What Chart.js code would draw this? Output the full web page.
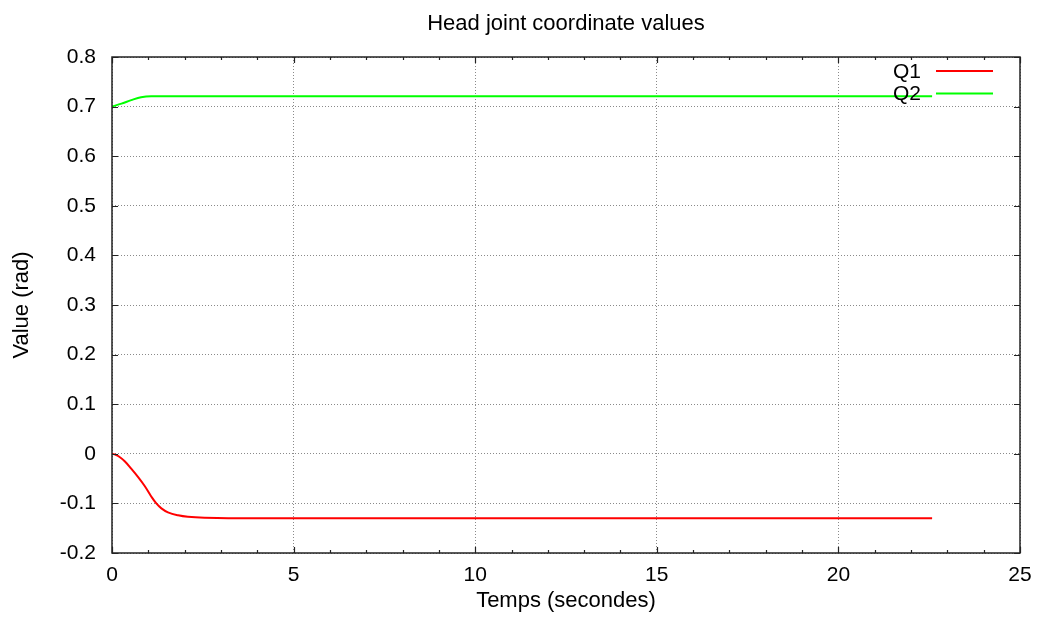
<!DOCTYPE html>
<html>
<head>
<meta charset="utf-8">
<script src="https://cdn.jsdelivr.net/npm/chart.js@4/dist/chart.umd.min.js"></script>
<style>
  html, body { margin: 0; padding: 0; background: #ffffff; }
  #wrap { width: 1038px; height: 622px; }
</style>
</head>
<body>
<div id="wrap"><canvas id="c" width="1038" height="622"></canvas></div>
<script>
// ---- data ----
const chartTitle = 'Head joint coordinate values';
const xAxisTitle = 'Temps (secondes)';
const yAxisTitle = 'Value (rad)';
const seriesNames = ['Q1', 'Q2'];
const seriesColors = ['#ff0000', '#00ff00'];

const q1Time  = [0, 0.1, 0.2, 0.35, 0.53, 0.72, 0.9, 1.08, 1.22, 1.36, 1.54, 1.82, 2.09, 2.55, 3.2, 22.58];
const q1Value = [0, -0.002, -0.006, -0.015, -0.03, -0.047, -0.065, -0.086, -0.1, -0.11, -0.118, -0.124, -0.127, -0.129, -0.13, -0.13];

const q2Time  = [0, 0.26, 0.53, 0.8, 1.08, 1.4, 22.58];
const q2Value = [0.7, 0.706, 0.713, 0.719, 0.721, 0.721, 0.721];

const xTickValues = [0, 5, 10, 15, 20, 25];
const xTickLabels = ['0', '5', '10', '15', '20', '25'];
const yTickValues = [-0.2, -0.1, 0, 0.1, 0.2, 0.3, 0.4, 0.5, 0.6, 0.7, 0.8];
const yTickLabels = ['-0.2', '-0.1', '0', '0.1', '0.2', '0.3', '0.4', '0.5', '0.6', '0.7', '0.8'];

// ---- build ----
const toPoints = (ts, vs) => ts.map((t, i) => ({ x: t, y: vs[i] }));
const FONT = 'Liberation Sans, Arial, Helvetica, sans-serif';

const gnuplotFrame = {
  id: 'gnuplotFrame',
  afterDraw(chart) {
    const { ctx, chartArea: a, scales } = chart;
    const xs = scales.x, ys = scales.y;
    ctx.save();
    ctx.strokeStyle = '#222';
    ctx.lineWidth = 1.5;
    ctx.setLineDash([]);
    ctx.strokeRect(a.left, a.top, a.right - a.left, a.bottom - a.top);
    ctx.lineWidth = 1.2;
    ctx.beginPath();
    const major = 6, minor = 3;
    for (let v = xs.min; v <= xs.max + 1e-9; v += 1) {
      const px = Math.round(xs.getPixelForValue(v)) + 0.5;
      const len = (Math.abs(v % 5) < 1e-9) ? major : minor;
      ctx.moveTo(px, a.bottom); ctx.lineTo(px, a.bottom - len);
      ctx.moveTo(px, a.top); ctx.lineTo(px, a.top + len);
    }
    yTickValues.forEach(v => {
      const py = Math.round(ys.getPixelForValue(v)) + 0.5;
      ctx.moveTo(a.left, py); ctx.lineTo(a.left + major, py);
      ctx.moveTo(a.right, py); ctx.lineTo(a.right - major, py);
    });
    ctx.stroke();
    ctx.font = '21px ' + FONT;
    ctx.textAlign = 'right';
    ctx.textBaseline = 'middle';
    chart.data.datasets.forEach((ds, i) => {
      const y = a.top + 14 + i * 22.5;
      ctx.fillStyle = '#000';
      ctx.fillText(ds.label, a.right - 99, y + 1);
      ctx.strokeStyle = ds.borderColor;
      ctx.lineWidth = 2;
      ctx.beginPath();
      ctx.moveTo(a.right - 84, y);
      ctx.lineTo(a.right - 27, y);
      ctx.stroke();
    });
    ctx.restore();
  }
};

new Chart(document.getElementById('c'), {
  type: 'line',
  data: {
    datasets: [
      { label: seriesNames[0], data: toPoints(q1Time, q1Value), borderColor: seriesColors[0], backgroundColor: seriesColors[0],
        borderWidth: 2, pointRadius: 0, fill: false, tension: 0.4 },
      { label: seriesNames[1], data: toPoints(q2Time, q2Value), borderColor: seriesColors[1], backgroundColor: seriesColors[1],
        borderWidth: 2, pointRadius: 0, fill: false, cubicInterpolationMode: 'monotone' }
    ]
  },
  options: {
    responsive: false,
    animation: false,
    layout: { padding: { left: 0, right: 18, top: 0, bottom: 0 } },
    plugins: {
      legend: { display: false },
      tooltip: { enabled: false },
      title: {
        display: true,
        text: chartTitle,
        fullSize: false,
        color: '#000',
        font: { family: FONT, size: 22, weight: 'normal' },
        padding: { top: 11, bottom: 19.6 }
      }
    },
    scales: {
      x: {
        type: 'linear',
        min: 0, max: 25,
        afterBuildTicks: s => { s.ticks = xTickValues.map(v => ({ value: v })); },
        afterFit: s => { s.height = 69; s.paddingLeft = 0; s.paddingRight = 0; },
        ticks: {
          color: '#000',
          font: { family: FONT, size: 21 },
          padding: 10,
          maxRotation: 0,
          autoSkip: false,
          callback: (v) => xTickLabels[xTickValues.indexOf(v)]
        },
        grid: { color: '#8a8a8a', lineWidth: 1, drawTicks: false },
        border: { display: false, dash: [1, 2] },
        title: { display: true, text: xAxisTitle, color: '#000',
          font: { family: FONT, size: 22 }, padding: { top: 0, bottom: 8 } }
      },
      y: {
        type: 'linear',
        min: -0.2, max: 0.8,
        afterBuildTicks: s => { s.ticks = yTickValues.map(v => ({ value: v })); },
        afterFit: s => { s.width = 112; s.paddingTop = 0; s.paddingBottom = 0; },
        ticks: {
          color: '#000',
          font: { family: FONT, size: 21 },
          padding: 16,
          autoSkip: false,
          callback: (v) => yTickLabels[yTickValues.findIndex(t => Math.abs(t - v) < 1e-9)]
        },
        grid: { color: '#8a8a8a', lineWidth: 1, drawTicks: false },
        border: { display: false, dash: [1, 2] },
        title: { display: true, text: yAxisTitle, color: '#000',
          font: { family: FONT, size: 22 }, padding: { top: 9, bottom: 0 } }
      }
    }
  },
  plugins: [gnuplotFrame]
});
</script>
</body>
</html>
